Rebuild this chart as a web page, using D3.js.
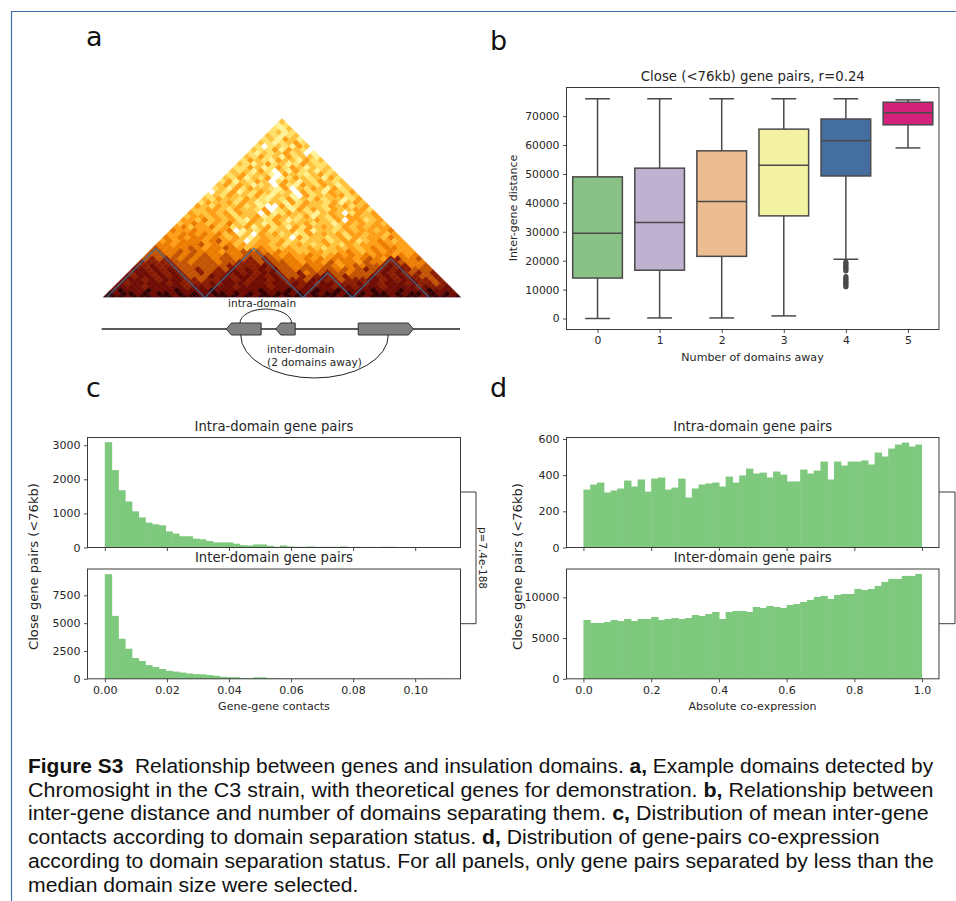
<!DOCTYPE html>
<html>
<head>
<meta charset="utf-8">
<script src="https://cdn.jsdelivr.net/npm/d3@7"></script>
<style>
body { margin: 0; background: #fff; }
text { font-family: "DejaVu Sans", sans-serif; fill: #262626; }
</style>
</head>
<body>
<div id="chart"></div>
<script>
// panel a: contact map levels, 0 = black ... 9 = white
// one string per row from the apex down, groups of ten to keep them countable
const mapRows = [
  "6", "87", "786", "7687", "67876", "768568", "6787657", "79767856", "677585679", "7867657698",
  "6757685766 8",
  "7567856685 76",
  "6786576875 677",
  "7756875756 8676",
  "6768579685 76867",
  "7657668956 786576",
  "6758675987 5676857",
  "7586756975 68675676",
  "6575687695 785675686",
  "7685756678 5967568576",
  "9675867568 7695768567 5",
  "7675667578 6689576655 76",
  "6756675678 6758675766 875",
  "7566575687 6685756675 8656",
  "5675665768 9958756675 65765",
  "6655675667 5976857567 566557",
  "5665657566 9587566786 5697565",
  "6556565766 5875667586 75655665",
  "5564656578 5675687665 675955765",
  "6545656467 5687576657 6686565656",
  "5465546576 5865768575 6567565655 5",
  "4554556549 8675766575 8667656556 54",
  "5544545465 8695657687 5656575565 565",
  "4545445456 5686566695 7667657565 5645",
  "5454445435 5696556576 7665765576 54565",
  "4454443545 4656556576 5676567565 554555",
  "3444434544 3456545665 6656765656 5454455",
  "3344343444 5443334545 5665566545 65454555",
  "3334343434 4344333345 4554565454 545445454",
  "3232343433 4334323234 4454545444 5434522443",
  "2222233433 3433222323 3445445354 4534422344 4",
  "2212223333 3332222212 3344344345 4343321224 43",
  "1121212332 3323121212 1334334334 3432321212 333",
  "2112121233 2322112121 1233243323 3433321212 3232",
  "1211212123 3312121121 2123323212 3233312121 22332",
  "1112121112 2322112121 1212223112 2322211212 112232",
  "1211111212 2221211121 1211212121 1222121211 1212232",
  "1111211111 2112111211 1121112111 1211211121 11121221",
  "1011101110 1111011111 1011101110 1101111011 101110111",
  "0100101001 0101100101 0101001010 1001010100 1010010101",
  "0001000100 1000010001 0100010001 0001000100 0100010001 0"
];
const domainEdges = [[0, 14], [14, 28], [28, 35], [35, 46]];

// gene cartoon, in percent along the line
const geneStart = [34.8, 48.6, 71.6];
const geneEnd = [44.5, 54, 87];
const geneDir = [-1, -1, 1];

// panel b
const boxCats = [0, 1, 2, 3, 4, 5];
const boxLow = [0, 200, 200, 900, 20500, 59000];
const boxQ1 = [14000, 16700, 21500, 35500, 49300, 67000];
const boxMed = [29500, 33200, 40500, 53000, 61500, 71200];
const boxQ3 = [49000, 52000, 58000, 65500, 69000, 74800];
const boxHigh = [76000, 76000, 76000, 76000, 76000, 75600];
const boxColors = ["#8ac187", "#bfb1d0", "#edbd92", "#f2f2a2", "#456ea0", "#d4217a"];
const outliers4 = [19500, 19000, 18500, 18000, 17500, 17000, 16500, 14500, 14000, 13500, 13000, 12500, 12000, 11500, 11000];

// panel c
const contactsIntra = [3090, 2270, 1680, 1350, 1060, 880, 730, 680, 650, 470,
  410, 330, 330, 260, 240, 190, 150, 150, 150, 110,
  70, 60, 90, 90, 50, 20, 60, 30, 20, 20,
  30, 20, 20, 20, 20, 30, 10, 20, 10, 20,
  10, 20, 20, 10, 10, 10, 10, 10, 10, 10];
const contactsInter = [9400, 5650, 3600, 2700, 1870, 1600, 1230, 1060, 880, 720,
  650, 560, 480, 420, 410, 340, 270, 180, 150, 140,
  70, 60, 130, 130, 60, 50, 40, 40, 30, 30,
  30, 40, 30, 20, 20, 20, 30, 30, 20, 20,
  20, 10, 20, 10, 20, 10, 10, 10, 10, 10];

// panel d
const coexprIntra = [320, 348, 359, 304, 315, 326, 370, 337, 376, 309,
  381, 387, 320, 331, 381, 276, 326, 348, 354, 359,
  337, 392, 359, 398, 436, 409, 414, 387, 420, 403,
  365, 365, 431, 409, 425, 475, 376, 475, 453, 475,
  475, 481, 459, 525, 503, 547, 569, 580, 558, 569];
const coexprInter = [7216, 6850, 6850, 6970, 7216, 7090, 7340, 7090, 7340, 7340,
  7585, 7216, 7340, 7460, 7340, 7460, 7830, 7710, 7950, 8200,
  7340, 8200, 8320, 8320, 8200, 8815, 8690, 8940, 8815, 8690,
  9060, 9180, 9430, 9680, 10045, 10170, 9800, 10290, 10410, 10410,
  11030, 10900, 11030, 11400, 11890, 12260, 12260, 12630, 12630, 12870];

const captionLines = [
  [["Figure S3", 1], ["  Relationship between genes and insulation domains. ", 0], ["a,", 1], [" Example domains detected by", 0]],
  [["Chromosight in the C3 strain, with theoretical genes for demonstration. ", 0], ["b,", 1], [" Relationship between", 0]],
  [["inter-gene distance and number of domains separating them. ", 0], ["c,", 1], [" Distribution of mean inter-gene", 0]],
  [["contacts according to domain separation status. ", 0], ["d,", 1], [" Distribution of gene-pairs co-expression", 0]],
  [["according to domain separation status. For all panels, only gene pairs separated by less than the", 0]],
  [["median domain size were selected.", 0]]
];

const width = 956, height = 901;
const spineColor = "#3a3a3a", histColor = "#7fc97f", boxLine = "#4a4a4a";

const svg = d3.select("#chart").append("svg")
  .attr("width", width).attr("height", height)
  .style("display", "block");

// page frame
svg.append("path")
  .attr("d", `M11.5,${height} V11.5 H${width}`)
  .attr("fill", "none").attr("stroke", "#3f70ad").attr("stroke-width", 1.2);

function letter(s, x, y) {
  svg.append("text").attr("x", x).attr("y", y)
    .style("font-size", "27px").style("fill", "#111").text(s);
}
letter("a", 86, 46);
letter("b", 490, 50);
letter("c", 86, 397);
letter("d", 490, 397);

function styleAxis(g, fontSize) {
  g.selectAll(".domain").remove();
  g.selectAll("line").attr("stroke", spineColor).attr("stroke-width", 0.9);
  g.selectAll("text").style("font-size", fontSize + "px").style("fill", "#262626");
}

function frame(x0, x1, y0, y1) {
  svg.append("rect")
    .attr("x", x0).attr("y", y0).attr("width", x1 - x0).attr("height", y1 - y0)
    .attr("fill", "none").attr("stroke", spineColor).attr("stroke-width", 1);
}

// ---- panel a ----
function drawMap() {
  const n = mapRows.length;
  const baseY = 297.5;
  const cellW = 358 / n;
  const xCell = d3.scaleLinear().domain([0, n - 1]).range([103 + cellW / 2, 461 - cellW / 2]);
  const yDist = d3.scaleLinear().domain([0, n - 1]).range([baseY, baseY - (n - 1) * cellW / 2]);
  const color = d3.scaleLinear()
    .domain([0, 1, 2, 3, 4, 5, 6, 7, 8, 9])
    .range(["#340000", "#6e0800", "#8c1c00", "#c25200", "#ec7c00", "#ff9f16", "#ffc23c", "#ffe068", "#fff296", "#ffffff"]);

  svg.append("clipPath").attr("id", "mapclip").append("rect")
    .attr("x", 90).attr("y", 100).attr("width", 390).attr("height", baseY - 100);
  // the reference map is resampled, so its cell edges are soft
  const soft = svg.append("filter").attr("id", "soft")
    .attr("x", "-2%").attr("y", "-2%").attr("width", "104%").attr("height", "104%");
  soft.append("feGaussianBlur").attr("stdDeviation", 0.55);

  const cells = [];
  mapRows.forEach((row, r) => {
    const levels = row.replace(/ /g, "");
    const d = n - 1 - r;
    for (let c = 0; c < levels.length; c++) {
      cells.push({ i: c, d: d, v: +levels[c] });
    }
  });

  const g = svg.append("g").attr("clip-path", "url(#mapclip)").append("g").attr("filter", "url(#soft)");
  g.selectAll("path").data(cells).enter().append("path")
    .attr("d", p => {
      const cx = xCell(p.i + p.d / 2), cy = yDist(p.d), h = cellW / 2;
      return `M${cx - h},${cy} L${cx},${cy - h} L${cx + h},${cy} L${cx},${cy + h} Z`;
    })
    .attr("fill", p => color(p.v))
    .attr("stroke", p => color(p.v))
    .attr("stroke-width", 0.5);

  const domainLine = d3.line().x(p => xCell(p[0])).y(p => yDist(p[1]));
  domainEdges.forEach(e => {
    svg.append("path")
      .attr("d", domainLine([[e[0], 0], [(e[0] + e[1]) / 2, e[1] - e[0]], [e[1], 0]]))
      .attr("fill", "none").attr("stroke", "#3f6d94").attr("stroke-width", 1.3).attr("stroke-opacity", 0.9);
  });

  // base line of the triangle is a faint grey-blue
  svg.append("line").attr("x1", 103).attr("x2", 461).attr("y1", baseY).attr("y2", baseY)
    .attr("stroke", "#b9b3bb").attr("stroke-width", 0.8);

  // gene cartoon
  const pos = d3.scaleLinear().domain([0, 100]).range([101.7, 460]);
  const lineY = 329, halfH = 6, tip = 5;
  svg.append("line").attr("x1", pos(0)).attr("x2", pos(100)).attr("y1", lineY).attr("y2", lineY)
    .attr("stroke", "#222").attr("stroke-width", 1.4);

  geneStart.forEach((s, k) => {
    const a = pos(s), b = pos(geneEnd[k]);
    const pts = geneDir[k] < 0
      ? [[a, lineY], [a + tip, lineY - halfH], [b, lineY - halfH], [b, lineY + halfH], [a + tip, lineY + halfH]]
      : [[a, lineY - halfH], [b - tip, lineY - halfH], [b, lineY], [b - tip, lineY + halfH], [a, lineY + halfH]];
    svg.append("polygon").attr("points", pts.join(" "))
      .attr("fill", "#808080").attr("stroke", "#333").attr("stroke-width", 1);
  });

  svg.append("path")
    .attr("d", `M${pos(38.6)},${lineY - halfH} A${(pos(53) - pos(38.6)) / 2},14 0 0 1 ${pos(53)},${lineY - halfH}`)
    .attr("fill", "none").attr("stroke", "#222").attr("stroke-width", 1);
  svg.append("path")
    .attr("d", `M${pos(38.8)},${lineY + halfH} A${(pos(80) - pos(38.8)) / 2},43 0 0 0 ${pos(80)},${lineY + halfH}`)
    .attr("fill", "none").attr("stroke", "#222").attr("stroke-width", 1);

  const note = (s, x, y) => svg.append("text").attr("x", x).attr("y", y).style("font-size", "10.6px").text(s);
  note("intra-domain", 228, 306.5);
  note("inter-domain", 267, 353);
  note("(2 domains away)", 267, 366);
}
drawMap();

// ---- panel b ----
function drawBoxes() {
  const x0 = 566.5, x1 = 939, y0 = 87.5, y1 = 329.5;
  const x = d3.scaleLinear().domain([-0.5, 5.5]).range([x0, x1]);
  const y = d3.scaleLinear().domain([-3800, 79900]).range([y1, y0]);
  const boxW = (x(1) - x(0)) * 0.8, capW = boxW * 0.5;
  const g = svg.append("g");

  boxCats.forEach((c, k) => {
    const cx = x(c);
    g.append("line").attr("x1", cx).attr("x2", cx).attr("y1", y(boxLow[k])).attr("y2", y(boxHigh[k]))
      .attr("stroke", boxLine).attr("stroke-width", 1.5);
    [boxLow[k], boxHigh[k]].forEach(v => {
      g.append("line").attr("x1", cx - capW / 2).attr("x2", cx + capW / 2).attr("y1", y(v)).attr("y2", y(v))
        .attr("stroke", boxLine).attr("stroke-width", 1.5);
    });
    g.append("rect")
      .attr("x", cx - boxW / 2).attr("width", boxW)
      .attr("y", y(boxQ3[k])).attr("height", y(boxQ1[k]) - y(boxQ3[k]))
      .attr("fill", boxColors[k]).attr("stroke", boxLine).attr("stroke-width", 1.5);
    g.append("line").attr("x1", cx - boxW / 2).attr("x2", cx + boxW / 2).attr("y1", y(boxMed[k])).attr("y2", y(boxMed[k]))
      .attr("stroke", boxLine).attr("stroke-width", 1.5);
  });

  g.selectAll("circle").data(outliers4).enter().append("circle")
    .attr("cx", x(4)).attr("cy", d => y(d)).attr("r", 2.6).attr("fill", boxLine);

  frame(x0, x1, y0, y1);
  svg.append("g").attr("transform", `translate(0,${y1})`)
    .call(d3.axisBottom(x).tickValues(boxCats).tickFormat(d3.format("d")).tickSize(3.5).tickPadding(3.5))
    .call(s => styleAxis(s, 10.8));
  svg.append("g").attr("transform", `translate(${x0},0)`)
    .call(d3.axisLeft(y).tickValues(d3.range(0, 70001, 10000)).tickFormat(d3.format("d")).tickSize(3.5).tickPadding(3.5))
    .call(s => styleAxis(s, 10.8));

  svg.append("text").attr("x", 752.8).attr("y", 81).attr("text-anchor", "middle")
    .style("font-size", "13.3px").text("Close (<76kb) gene pairs, r=0.24");
  svg.append("text").attr("x", 752.5).attr("y", 361).attr("text-anchor", "middle")
    .style("font-size", "11.1px").text("Number of domains away");
  svg.append("text").attr("transform", "translate(517,208) rotate(-90)").attr("text-anchor", "middle")
    .style("font-size", "11px").text("Inter-gene distance");
}
drawBoxes();

// ---- panels c and d ----
function hist(o) {
  const x = d3.scaleLinear().domain(o.xDomain).range([o.x0, o.x1]);
  const y = d3.scaleLinear().domain([0, o.yMax]).range([o.y1, o.y0]);
  const binW = o.binMax / o.values.length;

  // the small overlap hides the seams between neighbouring bars
  svg.append("g").selectAll("rect").data(o.values).enter().append("rect")
    .attr("x", (d, i) => x(i * binW))
    .attr("width", (d, i) => x(binW) - x(0) + (i < o.values.length - 1 ? 0.6 : 0))
    .attr("y", d => y(d))
    .attr("height", d => y(0) - y(d))
    .attr("fill", histColor);

  frame(o.x0, o.x1, o.y0, o.y1);

  const xAxis = d3.axisBottom(x).tickValues(o.xTicks).tickSize(3.5).tickPadding(3.5)
    .tickFormat(o.showX ? d3.format(o.xFormat) : "");
  svg.append("g").attr("transform", `translate(0,${o.y1})`).call(xAxis).call(s => styleAxis(s, 11));
  svg.append("g").attr("transform", `translate(${o.x0},0)`)
    .call(d3.axisLeft(y).tickValues(o.yTicks).tickFormat(d3.format("d")).tickSize(3.5).tickPadding(3.5))
    .call(s => styleAxis(s, 11));

  svg.append("text").attr("x", (o.x0 + o.x1) / 2).attr("y", o.y0 - 7).attr("text-anchor", "middle")
    .style("font-size", "13.2px").text(o.title);
}

const cd = { x0: 87.5, x1: 460.5 };
const contactTicks = [0, 0.02, 0.04, 0.06, 0.08, 0.1];
hist({ ...cd, y0: 437.5, y1: 547.5, values: contactsIntra, xDomain: [-0.00558, 0.1146], binMax: 0.1085,
  yMax: 3226, yTicks: [0, 1000, 2000, 3000], xTicks: contactTicks, showX: false, title: "Intra-domain gene pairs" });
hist({ ...cd, y0: 569, y1: 678.8, values: contactsInter, xDomain: [-0.00558, 0.1146], binMax: 0.1085,
  yMax: 9865, yTicks: [0, 2500, 5000, 7500], xTicks: contactTicks, showX: true, xFormat: ".2f", title: "Inter-domain gene pairs" });

const de = { x0: 566.5, x1: 939 };
const coexprTicks = [0, 0.2, 0.4, 0.6, 0.8, 1];
hist({ ...de, y0: 437.5, y1: 547.5, values: coexprIntra, xDomain: [-0.05, 1.05], binMax: 1,
  yMax: 608, yTicks: [0, 200, 400, 600], xTicks: coexprTicks, showX: false, title: "Intra-domain gene pairs" });
hist({ ...de, y0: 569, y1: 678.8, values: coexprInter, xDomain: [-0.05, 1.05], binMax: 1,
  yMax: 13477, yTicks: [0, 5000, 10000], xTicks: coexprTicks, showX: true, xFormat: ".1f", title: "Inter-domain gene pairs" });

svg.append("text").attr("x", 274).attr("y", 710).attr("text-anchor", "middle")
  .style("font-size", "11.1px").text("Gene-gene contacts");
svg.append("text").attr("x", 752.5).attr("y", 710).attr("text-anchor", "middle")
  .style("font-size", "11px").text("Absolute co-expression");
svg.append("text").attr("transform", "translate(38,566.5) rotate(-90)").attr("text-anchor", "middle")
  .style("font-size", "13.1px").text("Close gene pairs (<76kb)");
svg.append("text").attr("transform", "translate(521.5,566.5) rotate(-90)").attr("text-anchor", "middle")
  .style("font-size", "13.1px").text("Close gene pairs (<76kb)");

// significance brackets
[[460.5, 476], [939, 955]].forEach(b => {
  svg.append("path").attr("d", `M${b[0]},492 H${b[1]} V623.7 H${b[0]}`)
    .attr("fill", "none").attr("stroke", spineColor).attr("stroke-width", 1);
});
svg.append("text").attr("transform", "translate(479,558) rotate(90)").attr("text-anchor", "middle")
  .style("font-size", "10.4px").text("p=7.4e-188");

// ---- caption ----
const captionY = [773, 797, 820.5, 844.5, 868, 892];
const captionFont = "Liberation Sans";
const captionNodes = captionLines.map((parts, i) => {
  const t = svg.append("text").attr("y", captionY[i])
    .attr("xml:space", "preserve")
    .style("white-space", "pre")
    .style("font-family", captionFont).style("font-size", "19.5px").style("fill", "#111");
  parts.forEach(p => {
    t.append("tspan").style("font-weight", p[1] ? "bold" : "normal").text(p[0]);
  });
  return t;
});
// CM Sans is narrower than Liberation. Justified lines are squeezed to the column,
// the two short lines take the factor of the last full line.
const columnW = [906, 906, 901, 0, 906, 0];
const shortFit = 906 / captionNodes[4].node().getComputedTextLength();
captionNodes.forEach((t, i) => {
  const fit = columnW[i] ? columnW[i] / t.node().getComputedTextLength() : shortFit;
  t.attr("transform", `translate(28,0) scale(${fit},1)`);
});
</script>
</body>
</html>
